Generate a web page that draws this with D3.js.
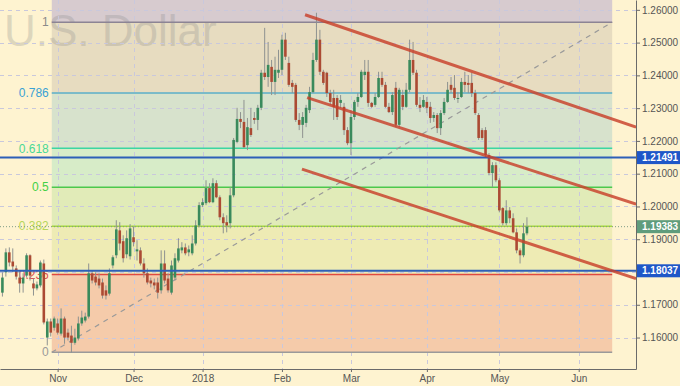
<!DOCTYPE html>
<html lang="en">
<head>
<meta charset="utf-8">
<title>U.S. Dollar daily</title>
<script src="https://d3js.org/d3.v7.min.js"></script>
<style>
  body { margin: 0; background: #fef3d0; }
  svg { display: block; font-family: "Liberation Sans", Arial, sans-serif; }
  .axis text { font-size: 10px; fill: #555; }
  .axis path, .axis line { stroke: #6a6a6a; }
</style>
</head>
<body>
<script>
// daily bars (Oct 10 2017 .. May 11 2018)
var open = [1.1737,1.1799,1.1860,1.1832,1.1811,1.1783,1.1765,1.1789,1.1851,1.1765,1.1750,1.1759,1.1826,1.1600,1.1649,1.1630,
  1.1643,1.1612,1.1658,1.1615,1.1606,1.1584,1.1597,1.1643,1.1652,1.1664,1.1796,1.1786,1.1780,1.1768,1.1744,1.1734,1.1820,1.1851,1.1927,1.1894,1.1854,1.1848,
  1.1906,1.1863,1.1866,1.1826,1.1796,1.1774,1.1768,1.1768,1.1744,1.1826,1.1780,1.1737,1.1783,1.1835,1.1866,1.1875,1.1860,1.1857,1.1887,1.1942,
  1.2004,1.2010,1.2056,1.2013,1.2071,1.2028,1.1967,1.1952,1.1949,1.2034,1.2197,1.2267,1.2258,1.2187,1.2239,1.2270,1.2264,1.2301,1.2408,1.2395,1.2426,1.2380,1.2408,1.2417,
  1.2509,1.2438,1.2377,1.2371,1.2264,1.2249,1.2255,1.2294,1.2349,1.2447,1.2509,1.2411,1.2408,1.2346,1.2331,1.2331,1.2316,1.2304,1.2233,
  1.2193,1.2273,1.2319,1.2334,1.2401,1.2411,1.2316,1.2310,1.2334,1.2392,1.2371,1.2304,1.2288,1.2362,1.2249,1.2340,1.2304,1.2356,1.2447,1.2408,1.2310,1.2304,
  1.2319,1.2304,1.2270,1.2279,1.2239,1.2285,1.2319,1.2371,1.2362,1.2328,1.2334,1.2380,1.2377,1.2377,1.2346,1.2279,1.2233,1.2233,1.2157,1.2102,1.2126,
  1.2080,1.1995,1.1949,1.1988,1.1964,1.1921,1.1866,1.1851,1.1918]
var high = [1.1799,1.1872,1.1875,1.1872,1.1820,1.1805,1.1796,1.1857,1.1854,1.1780,1.1771,1.1835,1.1838,1.1658,1.1658,1.1664,
  1.1658,1.1689,1.1664,1.1627,1.1636,1.1627,1.1664,1.1682,1.1676,1.1826,1.1805,1.1799,1.1796,1.1780,1.1759,1.1811,1.1851,1.1958,1.1952,1.1912,1.1927,1.1946,
  1.1939,1.1897,1.1875,1.1842,1.1811,1.1783,1.1780,1.1783,1.1866,1.1866,1.1796,1.1835,1.1857,1.1903,1.1891,1.1887,1.1881,1.1912,1.1958,1.2013,
  1.2025,1.2080,1.2071,1.2086,1.2080,1.2034,1.1979,1.1973,1.2059,1.2209,1.2301,1.2288,1.2325,1.2270,1.2301,1.2288,1.2310,1.2417,1.2545,1.2502,1.2447,1.2457,1.2478,1.2524,
  1.2530,1.2457,1.2386,1.2377,1.2285,1.2288,1.2310,1.2365,1.2469,1.2591,1.2539,1.2417,1.2411,1.2356,1.2356,1.2340,1.2340,1.2316,1.2242,
  1.2294,1.2325,1.2346,1.2417,1.2447,1.2447,1.2319,1.2346,1.2411,1.2411,1.2380,1.2316,1.2349,1.2380,1.2362,1.2356,1.2377,1.2509,1.2502,1.2417,1.2334,1.2340,
  1.2334,1.2319,1.2288,1.2285,1.2294,1.2331,1.2380,1.2395,1.2401,1.2349,1.2392,1.2411,1.2401,1.2408,1.2356,1.2285,1.2239,1.2242,1.2163,1.2135,1.2135,
  1.2086,1.1998,1.2019,1.1998,1.1979,1.1933,1.1872,1.1949,1.1967]
var low = [1.1725,1.1786,1.1817,1.1799,1.1777,1.1737,1.1737,1.1783,1.1774,1.1728,1.1744,1.1753,1.1640,1.1576,1.1603,1.1621,
  1.1609,1.1606,1.1581,1.1591,1.1554,1.1578,1.1591,1.1636,1.1646,1.1658,1.1765,1.1759,1.1750,1.1719,1.1716,1.1728,1.1811,1.1842,1.1866,1.1829,1.1842,1.1838,
  1.1878,1.1835,1.1820,1.1783,1.1762,1.1753,1.1747,1.1719,1.1734,1.1765,1.1737,1.1731,1.1774,1.1829,1.1857,1.1851,1.1848,1.1851,1.1881,1.1936,
  1.1998,1.2004,1.2010,1.2010,1.2025,1.1958,1.1918,1.1921,1.1933,1.2028,1.2193,1.2239,1.2178,1.2172,1.2212,1.2252,1.2233,1.2294,1.2386,1.2365,1.2340,1.2340,1.2392,1.2401,
  1.2447,1.2365,1.2346,1.2258,1.2233,1.2209,1.2242,1.2285,1.2346,1.2441,1.2401,1.2371,1.2334,1.2310,1.2264,1.2264,1.2301,1.2218,1.2187,
  1.2157,1.2264,1.2304,1.2331,1.2386,1.2304,1.2301,1.2304,1.2331,1.2365,1.2301,1.2285,1.2279,1.2242,1.2242,1.2294,1.2301,1.2349,1.2401,1.2304,1.2288,1.2301,
  1.2285,1.2255,1.2258,1.2224,1.2218,1.2279,1.2316,1.2346,1.2325,1.2316,1.2331,1.2349,1.2346,1.2334,1.2279,1.2203,1.2203,1.2151,1.2095,1.2059,1.2074,
  1.1982,1.1942,1.1942,1.1949,1.1918,1.1857,1.1826,1.1845,1.1912]
var close = [1.1783,1.1860,1.1829,1.1817,1.1786,1.1765,1.1783,1.1851,1.1789,1.1750,1.1762,1.1829,1.1646,1.1649,1.1615,1.1658,
  1.1615,1.1658,1.1600,1.1600,1.1584,1.1600,1.1643,1.1661,1.1664,1.1796,1.1774,1.1768,1.1759,1.1728,1.1728,1.1796,1.1845,1.1930,1.1887,1.1842,1.1903,1.1933,
  1.1891,1.1869,1.1826,1.1796,1.1768,1.1765,1.1759,1.1737,1.1826,1.1774,1.1744,1.1820,1.1842,1.1872,1.1875,1.1857,1.1869,1.1887,1.1942,1.2004,
  1.2013,1.2056,1.2013,1.2071,1.2028,1.1967,1.1949,1.1942,1.2034,1.2203,1.2267,1.2258,1.2181,1.2242,1.2218,1.2264,1.2301,1.2408,1.2395,1.2432,1.2380,1.2417,1.2417,1.2509,
  1.2457,1.2371,1.2365,1.2264,1.2249,1.2273,1.2301,1.2349,1.2447,1.2509,1.2411,1.2377,1.2346,1.2319,1.2304,1.2273,1.2325,1.2233,1.2193,
  1.2273,1.2319,1.2334,1.2411,1.2411,1.2316,1.2304,1.2334,1.2392,1.2371,1.2304,1.2288,1.2340,1.2249,1.2356,1.2304,1.2356,1.2447,1.2408,1.2310,1.2301,1.2325,
  1.2301,1.2270,1.2279,1.2239,1.2285,1.2319,1.2356,1.2356,1.2331,1.2331,1.2380,1.2371,1.2371,1.2346,1.2285,1.2209,1.2209,1.2157,1.2102,1.2126,1.2080,
  1.1988,1.1949,1.1988,1.1964,1.1921,1.1866,1.1851,1.1918,1.19383]

// month ticks (first trading day of the month) and their labels
var tickMonths = ["2017-11","2017-12","2018-01","2018-02","2018-03","2018-04","2018-05","2018-06"]
var tickLabels = ["Nov","Dec","2018","Feb","Mar","Apr","May","Jun"]
var priceTicks = [1.16,1.17,1.18,1.19,1.20,1.21,1.22,1.23,1.24,1.25,1.26]

// fibonacci grid: anchors as [bar, price]
var fibLevels = [0, 0.236, 0.382, 0.5, 0.618, 0.786, 1, 1.618]
var fibText = ["0", "0.236", "0.382", "0.5", "0.618", "0.786", "1", ""]
var fibFrom = [14.3, 1.1555]
var fibTo = [176.7, 1.2562]

// channel lines: [bar1, price1, bar2, price2]
var trendLines = [[87.7, 1.2585, 183.6, 1.2242],
                  [88.3, 1.2332, 183.6, 1.2007],
                  [86.8, 1.2114, 183.6, 1.1780]]

var levelLines = [1.21491, 1.18037]
var lastPrice = 1.19383

// colours
var fibLine = ["#9a9a9a", "#e04a40", "#a6d83e", "#4cc84c", "#3cd6a2", "#5aaec8", "#8c8494", "#8c8494"]
var fibLabelCol = ["#9a9a9a", "#e05050", "#b6d65a", "#44d044", "#4ad896", "#3aa2d4", "#8a8a8a", "#8a8a8a"]
var fibFill = ["#f5cbaa", "#eeebb4", "#e1ebb8", "#d7ecc8", "#d7e2cc", "#e7dcc0", "#d7cbcf"]
var upCol = "#3a8a5c", downCol = "#ab4a33", wickCol = "#8e9290"

var w = 680, h = 386
var plotW = 636, plotH = 369

// trading calendar: weekdays, Christmas closed
var days = []
var d = new Date(2017, 9, 10)
while (d <= new Date(2018, 5, 30)) {
  var wd = d.getDay()
  if (wd != 0 && wd != 6 && !(d.getMonth() == 11 && d.getDate() == 25)) days.push(new Date(d))
  d.setDate(d.getDate() + 1)
}
var fmtMonth = d3.timeFormat("%Y-%m")
var tickIdx = tickMonths.map(m => days.findIndex(dd => fmtMonth(dd) == m))

var xScale = d3.scaleLinear().domain([-0.7, 183.6]).range([0, plotW])
var yScale = d3.scaleLinear().domain([1.1504, 1.2630]).range([plotH, 0])

var svg = d3.select("body").append("svg").attr("width", w).attr("height", h)

svg.append("rect").attr("width", w).attr("height", h).attr("fill", "#fef3d0")

svg.append("clipPath").attr("id", "plot")
  .append("rect").attr("width", plotW).attr("height", plotH)

var plot = svg.append("g").attr("clip-path", "url(#plot)")

// fib fills
var fibPrice = l => fibFrom[1] + l * (fibTo[1] - fibFrom[1])
var fx0 = xScale(fibFrom[0]), fx1 = xScale(fibTo[0])
plot.selectAll(".fibfill").data(fibFill).join("rect")
  .attr("x", fx0).attr("width", fx1 - fx0)
  .attr("y", (c, i) => yScale(fibPrice(fibLevels[i + 1])))
  .attr("height", (c, i) => yScale(fibPrice(fibLevels[i])) - yScale(fibPrice(fibLevels[i + 1])))
  .attr("fill", c => c)

// watermark
plot.append("text").attr("x", 4).attr("y", 46)
  .style("font-size", "44px").attr("fill", "#8c8c8c").attr("opacity", 0.28)
  .text("U.S. Dollar")

// grid
plot.selectAll(".hgrid").data(priceTicks).join("line")
  .attr("x1", 0).attr("x2", plotW)
  .attr("y1", p => Math.round(yScale(p)) + 0.5).attr("y2", p => Math.round(yScale(p)) + 0.5)
  .attr("stroke", "#c9c8dc").attr("stroke-dasharray", "4,4")
plot.selectAll(".vgrid").data(tickIdx).join("line")
  .attr("x1", i => Math.round(xScale(i)) + 0.5).attr("x2", i => Math.round(xScale(i)) + 0.5)
  .attr("y1", 0).attr("y2", plotH)
  .attr("stroke", "#c9c8dc").attr("stroke-dasharray", "4,4")

// fib level lines and labels
plot.selectAll(".fibline").data(fibLevels).join("line")
  .attr("x1", fx0).attr("x2", fx1)
  .attr("y1", l => yScale(fibPrice(l))).attr("y2", l => yScale(fibPrice(l)))
  .attr("stroke", (l, i) => fibLine[i]).attr("stroke-width", 1.5)
plot.selectAll(".fiblabel").data(fibLevels).join("text")
  .attr("x", fx0 - 3).attr("y", l => yScale(fibPrice(l)))
  .attr("dy", "0.35em").attr("text-anchor", "end")
  .style("font-size", "12px").attr("fill", (l, i) => fibLabelCol[i])
  .text((l, i) => fibText[i])

// dashed fib diagonal
plot.append("line")
  .attr("x1", fx0).attr("y1", yScale(fibFrom[1]))
  .attr("x2", fx1).attr("y2", yScale(fibTo[1]))
  .attr("stroke", "#9a9a9a").attr("stroke-width", 1.2).attr("stroke-dasharray", "5,5")

// current price dotted line
plot.append("line")
  .attr("x1", 0).attr("x2", plotW)
  .attr("y1", yScale(lastPrice)).attr("y2", yScale(lastPrice))
  .attr("stroke", "#7f9c86").attr("stroke-dasharray", "1,2")

// candles
var bars = d3.range(open.length)
var bw = 2.6
plot.selectAll(".wick").data(bars).join("line")
  .attr("x1", i => xScale(i)).attr("x2", i => xScale(i))
  .attr("y1", i => yScale(high[i])).attr("y2", i => yScale(low[i]))
  .attr("stroke", wickCol).attr("stroke-width", 1)
plot.selectAll(".body").data(bars).join("rect")
  .attr("x", i => xScale(i) - bw / 2).attr("width", bw)
  .attr("y", i => yScale(Math.max(open[i], close[i])))
  .attr("height", i => Math.max(1, Math.abs(yScale(open[i]) - yScale(close[i]))))
  .attr("fill", i => close[i] > open[i] ? upCol : downCol)

// horizontal levels
plot.selectAll(".level").data(levelLines).join("line")
  .attr("x1", 0).attr("x2", plotW)
  .attr("y1", p => yScale(p)).attr("y2", p => yScale(p))
  .attr("stroke", "#2d5fb8").attr("stroke-width", 2)

// channel lines, extended to the right edge
plot.selectAll(".trend").data(trendLines).join("line")
  .attr("x1", t => xScale(t[0])).attr("y1", t => yScale(t[1]))
  .attr("x2", t => xScale(t[2])).attr("y2", t => yScale(t[3]))
  .attr("stroke", "#c8402a").attr("stroke-opacity", 0.82).attr("stroke-width", 3)

// axes
svg.append("g").attr("class", "axis")
  .attr("transform", "translate(" + plotW + ",0)")
  .call(d3.axisRight(yScale).tickValues(priceTicks).tickFormat(d3.format(".5f")).tickSize(4).tickSizeOuter(0))
  .call(g => g.selectAll("text").attr("x", 6))
svg.append("g").attr("class", "axis")
  .attr("transform", "translate(0," + plotH + ")")
  .call(d3.axisBottom(xScale).tickValues(tickIdx).tickFormat((v, i) => tickLabels[i]).tickSize(3).tickSizeOuter(0))
  .call(g => g.selectAll("text").attr("y", 6))

// price tags on the right
var tags = [[levelLines[0], "#1f57c8"], [levelLines[1], "#1f57c8"], [lastPrice, "#5f9c7c"]]
var tag = svg.selectAll(".tag").data(tags).join("g")
  .attr("transform", t => "translate(" + (plotW + 1) + "," + yScale(t[0]) + ")")
tag.append("rect").attr("x", 0).attr("y", -6.5).attr("width", w - plotW - 1).attr("height", 13)
  .attr("fill", t => t[1])
tag.append("text").attr("x", 5).attr("dy", "0.36em")
  .style("font-size", "10px").style("font-weight", "bold").attr("fill", "#fff")
  .text(t => d3.format(".5f")(t[0]))
</script>
</body>
</html>
